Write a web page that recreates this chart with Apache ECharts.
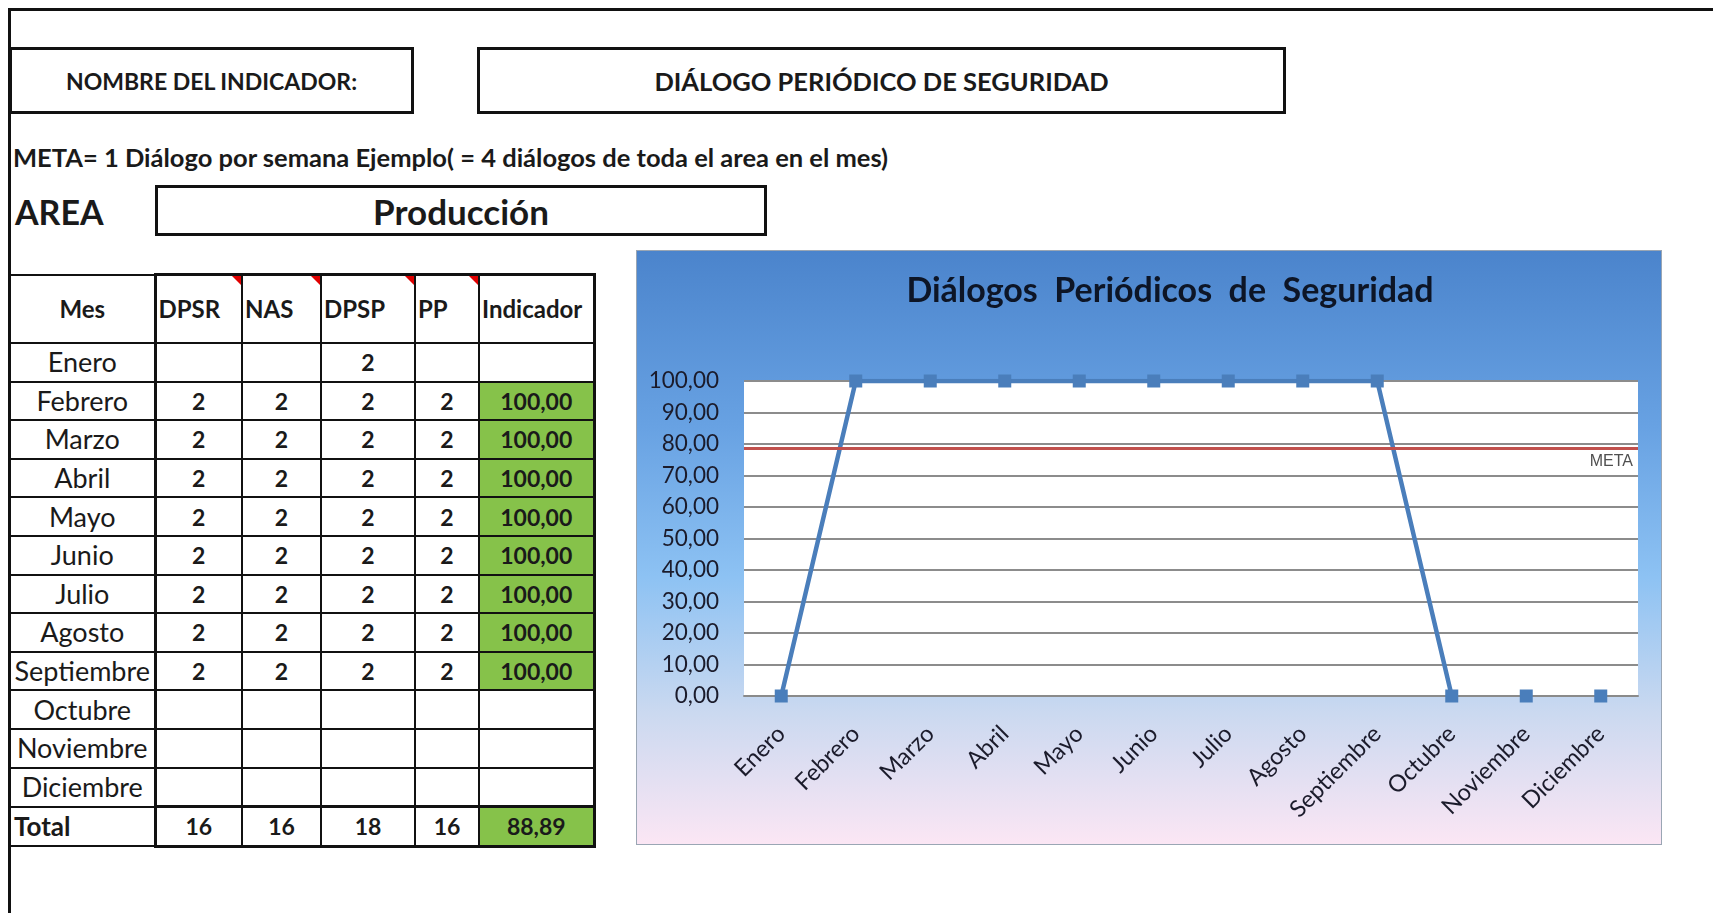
<!DOCTYPE html>
<html>
<head>
<meta charset="utf-8">
<title>Diálogos Periódicos de Seguridad</title>
<script src="https://cdn.jsdelivr.net/npm/echarts@6/dist/echarts.min.js"></script>
<style>
	body { margin: 0; background: #fff; font-family: Lato, 'Noto Sans', sans-serif; color: #1a1a1a; }
	#hoja { position: relative; width: 1713px; height: 913px; overflow: hidden; }
	.marco { position: absolute; left: 8px; top: 8px; right: -10px; bottom: -10px; border-top: 3px solid #111; border-left: 3px solid #111; }
	.caja { position: absolute; border: 3px solid #111; box-sizing: border-box; display: flex; align-items: center; justify-content: center; font-weight: bold; }
	.texto { position: absolute; font-weight: bold; white-space: nowrap; }
	#tabla { position: absolute; left: 9px; top: 273px; border-collapse: collapse; table-layout: fixed; }
	#tabla td { border: 2px solid #111; text-align: center; padding: 0; height: 36.6px; line-height: 30px; font-size: 27px; white-space: nowrap; position: relative; }
	#tabla tr.cab td { height: 66px; font-weight: bold; font-size: 24px; text-align: left; padding-left: 2px; }
	#tabla tr.cab td.mes { text-align: center; padding-left: 0; }
	#tabla td.num { font-weight: bold; font-size: 23px; }
	#tabla td.verde { background: #86c24a; }
	#tabla td.gr { border-left: 3.5px solid #111; }
	#tabla td.der { border-right: 3.5px solid #111; }
	#tabla tr.cab td.ar { border-top: 3.5px solid #111; }
	#tabla tr.tot td.ar { border-top: 3.5px solid #111; border-bottom: 3.5px solid #111; }
	#tabla tr.tot td.total { text-align: left; font-weight: bold; font-size: 26px; padding-left: 3px; }
	.nota { position: absolute; right: 0; top: 0; width: 0; height: 0; border-left: 9px solid transparent; border-top: 9px solid #e00000; }
	#grafico { position: absolute; left: 636px; top: 250px; width: 1026px; height: 595px; border: 1px solid #9aa6b4; box-sizing: border-box; }
</style>
</head>
<body>
<div id="hoja">
	<div class="marco"></div>
	<div class="caja" style="left:9px;top:47px;width:405px;height:67px;font-size:23px;">NOMBRE DEL INDICADOR:</div>
	<div class="caja" style="left:477px;top:47px;width:809px;height:67px;font-size:25.5px;">DIÁLOGO PERIÓDICO DE SEGURIDAD</div>
	<div class="texto" style="left:13px;top:142px;font-size:25.5px;">META= 1 Diálogo por semana Ejemplo( = 4 diálogos de toda el area en el mes)</div>
	<div class="texto" style="left:15px;top:191px;font-size:34px;">AREA</div>
	<div class="caja" style="left:155px;top:185px;width:612px;height:51px;font-size:35px;">Producción</div>
	<table id="tabla"></table>
	<div id="grafico"></div>
</div>
<script>
// datos de la tabla
var meses = ['Enero', 'Febrero', 'Marzo', 'Abril', 'Mayo', 'Junio', 'Julio', 'Agosto', 'Septiembre', 'Octubre', 'Noviembre', 'Diciembre']
var dpsr = ['', 2, 2, 2, 2, 2, 2, 2, 2, '', '', '']
var nas = ['', 2, 2, 2, 2, 2, 2, 2, 2, '', '', '']
var dpsp = [2, 2, 2, 2, 2, 2, 2, 2, 2, '', '', '']
var pp = ['', 2, 2, 2, 2, 2, 2, 2, 2, '', '', '']
var indicador = ['', '100,00', '100,00', '100,00', '100,00', '100,00', '100,00', '100,00', '100,00', '', '', '']
var totales = [16, 16, 18, 16, '88,89']

// datos del grafico
var valoresGrafico = [0, 100, 100, 100, 100, 100, 100, 100, 100, 0, 0, 0]
var sinLinea = ['Noviembre', 'Diciembre'] // puntos que no van unidos por la linea
var meta = 78.5

window.onload = function () {
	// tabla
	var anchos = [145, 87, 79, 94, 64, 115]
	var html = '<colgroup>'
	for (let a of anchos) {
		html += '<col style="width:' + a + 'px">'
	}
	html += '</colgroup>'
	html += '<tr class="cab"><td class="mes">Mes</td>' +
		'<td class="gr ar">DPSR<div class="nota"></div></td>' +
		'<td class="ar">NAS<div class="nota"></div></td>' +
		'<td class="ar">DPSP<div class="nota"></div></td>' +
		'<td class="ar">PP<div class="nota"></div></td>' +
		'<td class="ar der">Indicador</td></tr>'
	for (let i = 0; i < meses.length; i++) {
		html += '<tr><td>' + meses[i] + '</td>' +
			'<td class="num gr">' + dpsr[i] + '</td>' +
			'<td class="num">' + nas[i] + '</td>' +
			'<td class="num">' + dpsp[i] + '</td>' +
			'<td class="num">' + pp[i] + '</td>' +
			'<td class="num der' + (indicador[i] ? ' verde' : '') + '">' + indicador[i] + '</td></tr>'
	}
	html += '<tr class="tot"><td class="total">Total</td>' +
		'<td class="num gr ar">' + totales[0] + '</td>' +
		'<td class="num ar">' + totales[1] + '</td>' +
		'<td class="num ar">' + totales[2] + '</td>' +
		'<td class="num ar">' + totales[3] + '</td>' +
		'<td class="num ar der verde">' + totales[4] + '</td></tr>'
	document.getElementById('tabla').innerHTML = html

	// grafico
	var lineaDatos = valoresGrafico.map(function (v, i) {
		return sinLinea.indexOf(meses[i]) >= 0 ? null : v
	})
	var options = {
		animation: false,
		backgroundColor: new echarts.graphic.LinearGradient(0, 0, 0, 1, [
			{offset: 0, color: '#4b84cc'},
			{offset: 0.3, color: '#68a2e3'},
			{offset: 0.55, color: '#8dc2f3'},
			{offset: 0.78, color: '#cbd9f0'},
			{offset: 1, color: '#fbe6f4'}
		]),
		title: {
			text: 'Diálogos  Periódicos  de  Seguridad',
			left: 528,
			textAlign: 'center',
			top: 18,
			textStyle: {
				fontFamily: 'Lato',
				fontWeight: 'bold',
				fontSize: 34,
				color: '#0d1526'
			}
		},
		grid: {
			left: 107,
			right: 23,
			top: 130,
			bottom: 148,
			show: true,
			backgroundColor: '#ffffff',
			borderWidth: 0
		},
		xAxis: {
			type: 'category',
			data: meses,
			boundaryGap: true,
			axisLine: {lineStyle: {color: '#8a8a8a', width: 2}},
			axisTick: {show: false},
			axisLabel: {
				rotate: 45,
				margin: 34,
				interval: 0,
				fontFamily: 'Lato',
				fontSize: 23.5,
				color: '#1b1b2b'
			}
		},
		yAxis: {
			type: 'value',
			min: 0,
			max: 100,
			interval: 10,
			axisLine: {show: false},
			axisTick: {show: false},
			splitLine: {lineStyle: {color: '#8c8c8c', width: 2}},
			axisLabel: {
				margin: 25,
				fontFamily: 'Lato',
				fontSize: 22.5,
				color: '#1b1b2b',
				formatter: function (v) {
					return v.toFixed(2).replace('.', ',')
				}
			}
		},
		series: [
			{
				name: 'Indicador',
				type: 'line',
				data: lineaDatos,
				showSymbol: false,
				connectNulls: false,
				lineStyle: {color: '#4a7ebb', width: 4.5},
				z: 3
			},
			{
				name: 'Puntos',
				type: 'line',
				data: valoresGrafico,
				symbol: 'rect',
				symbolSize: 13,
				itemStyle: {color: '#4a7ebb'},
				lineStyle: {width: 0},
				z: 4,
				markLine: {
					symbol: 'none',
					silent: true,
					data: [{yAxis: meta}],
					lineStyle: {color: '#c0504d', width: 3, type: 'solid'},
					label: {
						position: 'insideEndBottom',
						formatter: 'META',
						fontFamily: 'Liberation Sans',
						fontSize: 16,
						color: '#505050'
					}
				}
			}
		]
	}
	var ele = document.getElementById('grafico')
	var myChart = echarts.init(ele)
	myChart.setOption(options)
}
</script>
</body>
</html>
